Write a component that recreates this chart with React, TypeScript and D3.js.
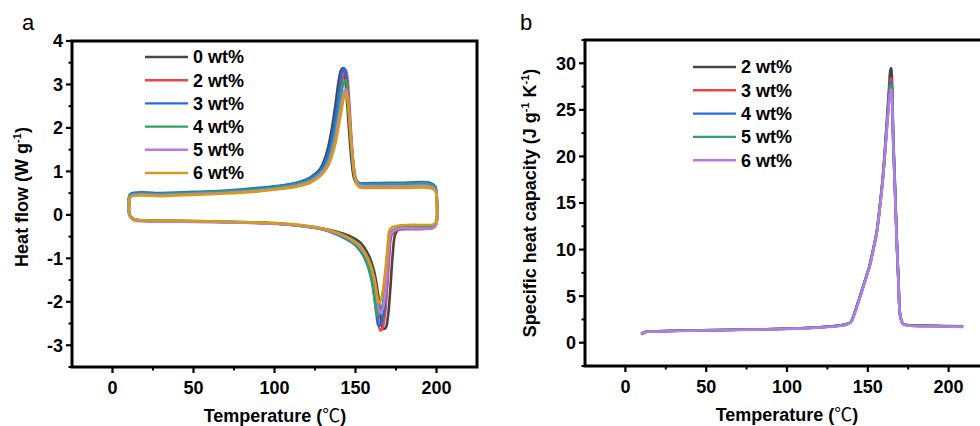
import React from "react";
import * as d3 from "d3";

type P = [number, number];

// ---------- Panel a: DSC heat flow loops ----------
const labelsA = ["0 wt%", "2 wt%", "3 wt%", "4 wt%", "5 wt%", "6 wt%"];
const colorsA = ["#454545", "#ef4242", "#1f6fe0", "#33a265", "#b57be6", "#d49c1a"];

const hf0: P[] = [[11,0.45],[30,0.48],[50,0.51],[70,0.54],[90,0.6],[105,0.67],[115,0.75],[122,0.86],[128,1.05],[132,1.4],[135,1.9],[137.5,2.5],[139.5,3.05],[141,3.32],[142.2,3.38],[143.4,3.2],[144.8,2.6],[146.3,1.8],[147.8,1.15],[149.3,0.82],[151,0.72],[160,0.71],[180,0.71],[196,0.7],[199.2,0.62],[200.3,0.25],[199.9,-0.15],[198,-0.25],[185,-0.28],[177,-0.31],[174.5,-0.45],[173,-0.9],[171.5,-1.7],[170,-2.35],[168.6,-2.6],[167,-2.62],[165.5,-2.35],[164,-1.85],[161.5,-1.3],[158,-0.92],[153,-0.64],[146,-0.48],[138,-0.38],[128,-0.3],[115,-0.24],[100,-0.2],[80,-0.17],[60,-0.155],[40,-0.145],[20,-0.13],[13,-0.1],[10.5,0.0],[10.2,0.25]];
const hf2: P[] = [[11,0.45],[30,0.47],[50,0.5],[70,0.53],[90,0.58],[105,0.64],[115,0.71],[122,0.8],[128,0.96],[133,1.25],[136.5,1.7],[139,2.3],[141,2.85],[142.8,3.25],[144,3.33],[145,3.15],[146.3,2.5],[147.6,1.7],[149,1.1],[150.5,0.8],[152.5,0.7],[160,0.69],[180,0.69],[196,0.68],[199.2,0.6],[200.3,0.25],[199.9,-0.2],[198,-0.3],[185,-0.33],[176,-0.35],[172.5,-0.45],[171,-0.9],[169.5,-1.7],[168,-2.35],[166.5,-2.62],[165.3,-2.66],[164,-2.4],[162.5,-1.9],[160,-1.35],[156,-0.95],[151,-0.7],[145,-0.55],[138,-0.43],[128,-0.32],[115,-0.25],[100,-0.2],[80,-0.17],[60,-0.155],[40,-0.145],[20,-0.13],[13,-0.1],[10.5,0.0],[10.2,0.25]];
const hf3: P[] = [[11,0.48],[30,0.5],[50,0.53],[70,0.56],[90,0.62],[105,0.68],[115,0.75],[122,0.85],[128,1.02],[132.5,1.35],[136,1.9],[138.5,2.5],[140.5,3.05],[142,3.33],[143.2,3.37],[144.3,3.15],[145.6,2.5],[147,1.7],[148.5,1.1],[150,0.82],[152,0.74],[160,0.73],[180,0.74],[196,0.74],[199.2,0.66],[200.3,0.28],[199.9,-0.18],[198,-0.27],[185,-0.3],[176,-0.32],[172,-0.42],[170.3,-0.9],[168.8,-1.7],[167.2,-2.3],[165.5,-2.52],[164.2,-2.55],[163,-2.3],[161.5,-1.85],[159,-1.35],[155,-0.95],[150,-0.7],[144,-0.55],[137,-0.43],[128,-0.32],[115,-0.25],[100,-0.2],[80,-0.17],[60,-0.155],[40,-0.145],[20,-0.13],[13,-0.1],[10.5,0.0],[10.2,0.25]];
const hf4: P[] = [[11,0.45],[30,0.48],[50,0.51],[70,0.54],[90,0.59],[105,0.65],[115,0.72],[122,0.81],[128,0.96],[133,1.25],[136.5,1.7],[139,2.25],[141,2.75],[142.8,3.05],[144,3.1],[145,2.9],[146.3,2.3],[147.6,1.6],[149,1.05],[150.5,0.78],[152.5,0.71],[160,0.7],[180,0.71],[196,0.71],[199.2,0.63],[200.3,0.26],[199.9,-0.18],[198,-0.26],[185,-0.28],[176,-0.3],[171.5,-0.4],[169.8,-0.85],[168.3,-1.6],[166.6,-2.1],[164.8,-2.28],[163.4,-2.3],[162.2,-2.05],[160.8,-1.65],[158.5,-1.25],[155,-0.92],[150,-0.68],[144,-0.53],[137,-0.41],[128,-0.31],[115,-0.24],[100,-0.19],[80,-0.165],[60,-0.15],[40,-0.14],[20,-0.125],[13,-0.1],[10.5,0.0],[10.2,0.25]];
const hf5: P[] = [[11,0.43],[30,0.45],[50,0.48],[70,0.51],[90,0.56],[105,0.62],[115,0.68],[122,0.77],[128,0.92],[133,1.18],[137,1.65],[139.5,2.2],[141.5,2.6],[143.2,2.85],[144.3,2.88],[145.3,2.7],[146.5,2.15],[147.8,1.5],[149.2,1.0],[150.7,0.74],[152.7,0.67],[160,0.66],[180,0.66],[196,0.66],[199.2,0.58],[200.3,0.22],[199.9,-0.22],[198,-0.3],[185,-0.31],[176,-0.32],[172,-0.42],[170.5,-0.85],[169,-1.55],[167.5,-2.05],[166,-2.23],[165,-2.25],[163.8,-2.0],[162.2,-1.6],[159.5,-1.2],[156,-0.9],[151,-0.67],[145,-0.53],[138,-0.42],[128,-0.32],[115,-0.25],[100,-0.21],[80,-0.18],[60,-0.17],[40,-0.16],[20,-0.15],[13,-0.12],[10.5,-0.02],[10.2,0.23]];
const hf6: P[] = [[11,0.41],[30,0.43],[50,0.46],[70,0.49],[90,0.54],[105,0.6],[115,0.66],[122,0.74],[128,0.88],[133,1.12],[137,1.55],[139.7,2.05],[141.8,2.5],[143.3,2.75],[144.2,2.8],[145.2,2.62],[146.5,2.05],[147.8,1.45],[149.2,0.95],[150.7,0.7],[152.7,0.63],[160,0.62],[180,0.62],[196,0.62],[199.2,0.55],[200.3,0.2],[199.9,-0.17],[198,-0.22],[185,-0.23],[176,-0.25],[171.5,-0.32],[169.8,-0.75],[168.2,-1.35],[166.6,-1.8],[165,-2.0],[164,-2.0],[163,-1.8],[161.5,-1.45],[159,-1.12],[155.5,-0.85],[150.5,-0.64],[144.5,-0.5],[137,-0.39],[128,-0.3],[115,-0.23],[100,-0.19],[80,-0.165],[60,-0.15],[40,-0.14],[20,-0.125],[13,-0.1],[10.5,0.0],[10.2,0.23]];
const seriesA = [hf0, hf2, hf3, hf4, hf5, hf6];

// ---------- Panel b: specific heat capacity ----------
const labelsB = ["2 wt%", "3 wt%", "4 wt%", "5 wt%", "6 wt%"];
const colorsB = ["#454545", "#ef4242", "#1f6fe0", "#33a265", "#b57be6"];

const cp2: P[] = [[10,0.9],[11.5,1.1],[14,1.2],[20,1.23],[40,1.3],[60,1.36],[80,1.42],[100,1.5],[115,1.6],[125,1.72],[132,1.85],[137,2.0],[139.5,2.25],[141,2.8],[143,3.85],[145,4.9],[147,6.0],[149,7.1],[151,8.2],[153,9.8],[155.4,11.8],[157.4,14.6],[159.5,18.2],[161.6,23.3],[163,27],[164,29.3],[164.5,29.5],[165,28],[165.7,22.5],[166.8,17],[167.8,11.8],[169,6.5],[170.2,2.8],[171.9,2.05],[176,1.88],[190,1.82],[209,1.76]];
const cp3: P[] = [[10,0.9],[11.5,1.1],[14,1.2],[20,1.23],[40,1.3],[60,1.36],[80,1.42],[100,1.5],[115,1.6],[125,1.71],[132,1.83],[137,1.98],[139.5,2.22],[141,2.75],[143,3.8],[145,4.85],[147,5.95],[149,7.05],[151,8.15],[153,9.7],[155.4,11.7],[157.4,14.5],[159.5,18.0],[161.6,22.9],[163,26.3],[164,28.2],[164.5,28.4],[165,27.2],[165.7,22.0],[166.8,16.7],[167.8,11.6],[169,6.4],[170.2,2.75],[171.9,2.02],[176,1.86],[190,1.8],[209,1.74]];
const cp4: P[] = [[10,0.9],[11.5,1.1],[14,1.2],[20,1.23],[40,1.3],[60,1.36],[80,1.42],[100,1.5],[115,1.6],[125,1.71],[132,1.83],[137,1.98],[139.5,2.22],[141,2.75],[143,3.8],[145,4.85],[147,5.95],[149,7.05],[151,8.15],[153,9.7],[155.4,11.7],[157.4,14.5],[159.5,18.0],[161.6,22.8],[163,26.0],[164,27.8],[164.5,28.0],[165,26.9],[165.7,21.9],[166.8,16.6],[167.8,11.5],[169,6.4],[170.2,2.75],[171.9,2.02],[176,1.86],[190,1.8],[209,1.74]];
const cp5: P[] = [[10,0.9],[11.5,1.1],[14,1.2],[20,1.23],[40,1.3],[60,1.36],[80,1.42],[100,1.5],[115,1.6],[125,1.71],[132,1.83],[137,1.98],[139.5,2.22],[141,2.75],[143,3.8],[145,4.85],[147,5.95],[149,7.05],[151,8.15],[153,9.7],[155.4,11.7],[157.4,14.5],[159.5,18.0],[161.6,22.7],[163,25.8],[164,27.5],[164.5,27.7],[165,26.6],[165.7,21.8],[166.8,16.5],[167.8,11.5],[169,6.4],[170.2,2.75],[171.9,2.02],[176,1.86],[190,1.8],[209,1.74]];
const cp6: P[] = [[10,0.88],[11.5,1.08],[14,1.18],[20,1.21],[40,1.28],[60,1.34],[80,1.4],[100,1.48],[115,1.57],[125,1.68],[132,1.8],[137,1.95],[139.5,2.2],[141,2.7],[143,3.7],[145,4.75],[147,5.85],[149,6.95],[151,8.05],[153,9.6],[155.4,11.6],[157.4,14.3],[159.5,17.8],[161.6,22.4],[163,25.4],[164,27.0],[164.5,27.2],[165,26.1],[165.7,21.5],[166.8,16.3],[167.8,11.3],[169,6.3],[170.2,2.7],[171.9,1.98],[176,1.82],[190,1.76],[209,1.7]];
const seriesB = [cp2, cp3, cp4, cp5, cp6];

// ---------- ticks ----------
const xTicks = [0, 50, 100, 150, 200];
const xMinor = [25, 75, 125, 175];
const yTicksA = [-3, -2, -1, 0, 1, 2, 3, 4];
const yMinorA = [-3.5, -2.5, -1.5, -0.5, 0.5, 1.5, 2.5, 3.5];
const yTicksB = [0, 5, 10, 15, 20, 25, 30];
const yMinorB = [-2.5, 2.5, 7.5, 12.5, 17.5, 22.5, 27.5, 32.5];

const FONT = "'Liberation Sans', Arial, Helvetica, sans-serif";
const CJK = "'Noto Sans CJK SC', 'Noto Sans CJK JP', sans-serif";

function Axes(props: {
  x: d3.ScaleLinear<number, number>;
  y: d3.ScaleLinear<number, number>;
  yTicks: number[];
  yMinor: number[];
}) {
  const { x, y, yTicks, yMinor } = props;
  const [x0, x1] = x.range();
  const [yb, yt] = y.range();
  return (
    <g>
      <rect x={x0} y={yt} width={x1 - x0} height={yb - yt} fill="none" stroke="#000" strokeWidth={3} />
      {xTicks.map((t) => (
        <g key={"xt" + t}>
          <line x1={x(t)} x2={x(t)} y1={yb} y2={yb + 6} stroke="#000" strokeWidth={2.2} />
          <text x={x(t)} y={yb + 27} textAnchor="middle" fontFamily={FONT} fontWeight="bold" fontSize={18}>{t}</text>
        </g>
      ))}
      {xMinor.map((t) => (
        <line key={"xm" + t} x1={x(t)} x2={x(t)} y1={yb} y2={yb + 3.5} stroke="#000" strokeWidth={2} />
      ))}
      {yTicks.map((t) => (
        <g key={"yt" + t}>
          <line x1={x0} x2={x0 - 6} y1={y(t)} y2={y(t)} stroke="#000" strokeWidth={2.2} />
          <text x={x0 - 9} y={y(t)} dy="0.36em" textAnchor="end" fontFamily={FONT} fontWeight="bold" fontSize={18}>{t}</text>
        </g>
      ))}
      {yMinor.map((t) => (
        <line key={"ym" + t} x1={x0} x2={x0 - 3.5} y1={y(t)} y2={y(t)} stroke="#000" strokeWidth={2} />
      ))}
    </g>
  );
}

export default function App() {
  const xA = d3.scaleLinear().domain([-25, 225]).range([72, 477]);
  const yA = d3.scaleLinear().domain([-3.5, 4]).range([367, 41]);
  const xB = d3.scaleLinear().domain([-25, 225]).range([585, 989]);
  const yB = d3.scaleLinear().domain([-2.5, 32.5]).range([366, 40]);

  const loopA = d3
    .line<P>()
    .x((d) => xA(d[0]))
    .y((d) => yA(d[1]))
    .curve(d3.curveCatmullRomClosed.alpha(0.5));
  const lineB = d3
    .line<P>()
    .x((d) => xB(d[0]))
    .y((d) => yB(d[1]))
    .curve(d3.curveCatmullRom.alpha(0.5));

  return (
    <svg width={980} height={426} style={{ position: "absolute", left: 0, top: 0, background: "#fff" }}>
      {/* panel labels */}
      <text x={22} y={30} fontFamily={FONT} fontSize={22}>a</text>
      <text x={520} y={30} fontFamily={FONT} fontSize={22}>b</text>

      {/* Panel a */}
      {seriesA.map((s, i) => (
        <path key={"a" + i} d={loopA(s) || ""} fill="none" stroke={colorsA[i]} strokeWidth={2.6} strokeLinejoin="round" />
      ))}
      <Axes x={xA} y={yA} yTicks={yTicksA} yMinor={yMinorA} />
      {labelsA.map((l, i) => (
        <g key={"la" + i}>
          <line x1={145} x2={188} y1={57 + i * 23.2} y2={57 + i * 23.2} stroke={colorsA[i]} strokeWidth={2.4} />
          <text x={193} y={57 + i * 23.2} dy="0.36em" fontFamily={FONT} fontWeight="bold" fontSize={18}>{l}</text>
        </g>
      ))}
      <text x={275} y={422} textAnchor="middle" fontFamily={FONT} fontWeight="bold" fontSize={18}>
        Temperature (<tspan fontFamily={CJK} fontWeight="normal">℃</tspan>)
      </text>
      <text transform="translate(28,197) rotate(-90)" textAnchor="middle" fontFamily={FONT} fontWeight="bold" fontSize={18}>
        Heat flow (W g<tspan fontSize={11} dy={-7}>-1</tspan><tspan dy={7}>)</tspan>
      </text>

      {/* Panel b */}
      {seriesB.map((s, i) => (
        <path key={"b" + i} d={lineB(s) || ""} fill="none" stroke={colorsB[i]} strokeWidth={2.6} strokeLinejoin="round" />
      ))}
      <Axes x={xB} y={yB} yTicks={yTicksB} yMinor={yMinorB} />
      {labelsB.map((l, i) => (
        <g key={"lb" + i}>
          <line x1={693} x2={736} y1={67 + i * 23.3} y2={67 + i * 23.3} stroke={colorsB[i]} strokeWidth={2.4} />
          <text x={741} y={67 + i * 23.3} dy="0.36em" fontFamily={FONT} fontWeight="bold" fontSize={18}>{l}</text>
        </g>
      ))}
      <text x={787} y={421} textAnchor="middle" fontFamily={FONT} fontWeight="bold" fontSize={18}>
        Temperature (<tspan fontFamily={CJK} fontWeight="normal">℃</tspan>)
      </text>
      <text transform="translate(536,203) rotate(-90)" textAnchor="middle" fontFamily={FONT} fontWeight="bold" fontSize={18}>
        Specific heat capacity (J g<tspan fontSize={11} dy={-7}>-1</tspan><tspan dy={7}> K</tspan><tspan fontSize={11} dy={-7}>-1</tspan><tspan dy={7}>)</tspan>
      </text>
    </svg>
  );
}
